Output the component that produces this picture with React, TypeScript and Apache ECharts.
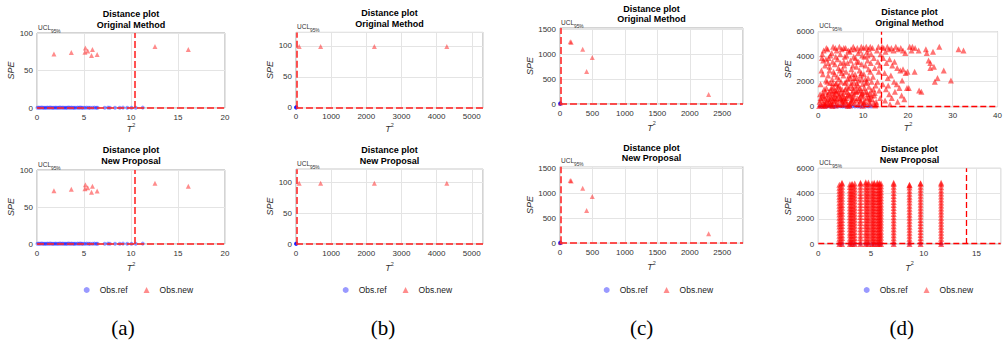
import React, { useEffect, useRef } from "react";
import * as echarts from "echarts";

type Pt = [number, number];

const captions = ["(a)", "(b)", "(c)", "(d)"];
const titleMain = "Distance plot";
const rowSubtitles = ["Original Method", "New Proposal"];
const refName = "Obs.ref";
const newName = "Obs.new";

// ---------- (a) ----------
const aRef: Pt[] = [
  [0.05, 0.3], [0.2, 0.5], [0.35, 0.2], [0.5, 0.6], [0.65, 0.3], [0.8, 0.4], [0.95, 0.2], [1.1, 0.5],
  [1.25, 0.3], [1.4, 0.6], [1.55, 0.2], [1.7, 0.4], [1.85, 0.3], [2.0, 0.5], [2.15, 0.2], [2.3, 0.4],
  [2.45, 0.6], [2.6, 0.3], [2.75, 0.5], [2.9, 0.2], [3.05, 0.4], [3.2, 0.3], [3.35, 0.6], [3.5, 0.2],
  [3.65, 0.5], [3.8, 0.3], [3.95, 0.4], [4.1, 0.2], [4.3, 0.5], [4.45, 0.3], [4.6, 0.6], [4.75, 0.2],
  [4.9, 0.4], [5.1, 0.3], [5.3, 0.5], [5.5, 0.2], [5.65, 0.4], [5.9, 0.3], [6.1, 0.5], [6.3, 0.2],
  [6.45, 0.4], [7.2, 0.3], [7.55, 0.5], [7.75, 0.2], [8.3, 0.4], [8.8, 0.3], [9.15, 0.5], [9.6, 0.2],
  [10.05, 0.4], [10.5, 0.3], [11.25, 0.5],
];
const aNew: Pt[] = [
  [1.8, 72], [3.65, 74], [5.15, 80], [5.1, 74.5], [5.4, 76], [5.9, 78], [5.8, 70], [6.4, 71.5],
  [12.55, 82], [16.1, 78],
];
const aUclT2 = 10.4;
const aUclSpe = 0.4;

// ---------- (b) ----------
const bRef: Pt[] = [[0, 0.2], [3, 0.5], [6, 0.3], [10, 0.6]];
const bNew: Pt[] = [[90, 99], [700, 99], [2230, 99], [4290, 99]];
const bUclT2 = 12;
const bUclSpe = 0.5;

// ---------- (c) ----------
const cRef: Pt[] = [[0, 2], [5, 8], [10, 4], [3, 15]];
const cNew: Pt[] = [[158, 1255], [172, 1245], [350, 1100], [497, 935], [410, 655], [2290, 190], [8, 20]];
const cUclT2 = 12;
const cUclSpe = 8;

// ---------- (d) original ----------
const dRefTop: Pt[] = [
  [0.3, 10], [0.8, 20], [1.3, 5], [1.9, 15], [2.4, 25], [2.9, 10], [3.4, 20], [3.8, 5], [4.3, 15],
  [4.9, 25], [5.4, 10], [5.9, 20], [6.5, 5], [7.1, 15], [7.6, 25], [8.2, 10], [8.8, 20], [9.3, 5],
  [9.9, 15], [10.6, 25], [11.2, 10], [11.8, 20],
];
const dNewTop: Pt[] = [
  [0.3, 400], [0.5, 1800], [0.6, 150], [0.8, 3900], [0.9, 900], [1.0, 2600], [1.1, 300], [1.2, 4500],
  [1.3, 1400], [1.4, 700], [1.5, 3300], [1.6, 100], [1.7, 2100], [1.8, 4700], [1.9, 500], [0.4, 1000],
  [0.7, 2900], [1.1, 3700], [1.6, 1200], [1.9, 250], [0.2, 60], [1.3, 50], [0.9, 4200], [1.7, 3800],
  [2.1, 4600], [2.3, 3900], [2.5, 3200], [2.2, 2500], [2.6, 1900], [2.4, 1200], [2.8, 800], [2.1, 600],
  [2.9, 300], [2.3, 150], [3.0, 4300], [3.2, 3600], [3.4, 2800], [3.1, 2200], [3.3, 1600], [3.5, 1000],
  [3.6, 500], [3.2, 200], [3.8, 4700], [3.9, 4000], [3.7, 3400], [3.6, 2600], [3.9, 1800], [3.8, 1300],
  [3.5, 700], [3.9, 100], [2.7, 4100], [2.5, 2900], [2.9, 1500], [3.3, 4800], [2.6, 600], [3.0, 1100],
  [3.7, 900], [2.2, 3500],
  [4.1, 4500], [4.3, 3800], [4.5, 3100], [4.2, 2400], [4.6, 1700], [4.4, 1000], [4.8, 600], [4.1, 300],
  [4.9, 4200], [5.0, 3500], [5.2, 2700], [5.1, 2000], [5.3, 1400], [5.5, 800], [5.4, 400], [5.6, 150],
  [5.7, 4700], [5.9, 4000], [5.8, 3300], [5.6, 2500], [5.9, 1900], [5.8, 1200], [5.5, 600], [4.7, 4800],
  [4.6, 2200], [4.3, 1300], [5.2, 4600], [5.0, 1100], [4.8, 2900], [5.7, 3600], [4.0, 1900], [4.2, 700],
  [5.3, 200],
  [6.1, 4700], [6.3, 4100], [6.5, 3500], [6.2, 2800], [6.6, 2200], [6.4, 1600], [6.8, 1000], [6.1, 500],
  [6.9, 200], [7.0, 4400], [7.2, 3700], [7.4, 3000], [7.1, 2300], [7.3, 1700], [7.5, 1100], [7.6, 600],
  [7.2, 300], [7.8, 4800], [7.9, 4000], [7.7, 3300], [7.6, 2600], [7.9, 2000], [7.8, 1300], [7.5, 800],
  [6.7, 4500], [6.5, 1200], [6.9, 2500], [7.3, 4600], [7.0, 900], [6.3, 700], [7.7, 1500],
  [8.1, 4600], [8.3, 3900], [8.5, 3200], [8.2, 2600], [8.6, 1900], [8.4, 1200], [8.8, 700], [8.1, 300],
  [8.9, 4300], [9.0, 3600], [9.2, 2900], [9.1, 2100], [9.3, 1500], [9.5, 900], [9.4, 400], [9.6, 4800],
  [9.8, 4100], [9.7, 3400], [9.6, 2700], [9.9, 1800], [9.8, 1100], [9.5, 500], [8.7, 4700], [8.5, 2300],
  [9.3, 4500], [9.0, 1300], [8.3, 1600], [9.7, 2200],
  [10.1, 4700], [10.3, 4000], [10.5, 3300], [10.2, 2600], [10.6, 1900], [10.4, 1200], [10.8, 700],
  [10.1, 300], [10.9, 4400], [11.0, 3700], [11.2, 3000], [11.1, 2300], [11.3, 1600], [11.5, 1000],
  [11.4, 400], [11.6, 4800], [11.8, 4200], [11.7, 3500], [11.6, 2800], [11.9, 2000], [11.8, 1300],
  [11.5, 600], [10.7, 4800], [11.2, 4600], [10.5, 2200],
  [12.1, 4700], [12.4, 3900], [12.6, 3100], [12.2, 2400], [12.8, 1700], [12.5, 900], [12.9, 400],
  [13.1, 4500], [13.3, 3600], [13.5, 2800], [13.2, 2000], [13.6, 1300], [13.8, 700], [13.4, 4800],
  [13.9, 4200], [13.7, 3300], [12.3, 1400], [13.0, 200],
  [14.2, 4800], [14.6, 4700], [15.0, 4400], [15.4, 4800], [15.8, 4600], [16.3, 4700], [16.8, 4500],
  [17.3, 4800], [17.8, 4600], [18.4, 4700], [18.9, 4500], [19.4, 4300], [14.5, 3900], [15.2, 3500],
  [15.9, 3800], [16.5, 3300], [17.0, 3600], [17.6, 3100], [18.3, 2900], [18.9, 3000], [19.5, 2700],
  [19.9, 2800], [14.8, 2700], [15.5, 2300], [16.2, 2500], [16.9, 2000], [17.5, 1800], [18.1, 1500],
  [18.7, 2100], [14.4, 1800], [15.1, 1400], [15.8, 1000], [16.4, 700], [17.1, 1200], [17.7, 400],
  [18.6, 900], [19.2, 600], [19.8, 1500], [14.9, 500], [16.0, 200], [15.6, 1700],
  [20.4, 4800], [21.0, 4800], [21.6, 4700], [20.8, 4500], [22.4, 4500], [24.0, 4600], [24.6, 3700],
  [25.0, 3500], [25.8, 3200], [25.0, 3100], [26.0, 2000], [26.6, 2300], [27.0, 4800], [28.0, 2900],
  [29.6, 2100], [31.3, 4600], [32.4, 4500], [22.5, 1300], [23.0, 1200], [20.2, 1500], [21.5, 2800],
  [25.6, 4400], [24.2, 4300],
  [0.5, 700], [1.0, 1100], [1.5, 200], [2.0, 900], [2.5, 400], [3.0, 700], [3.5, 1300], [4.0, 600],
  [4.5, 200], [5.0, 700], [5.5, 1000], [6.0, 400], [6.5, 900], [7.0, 100], [7.5, 400], [8.0, 1000],
  [8.5, 500], [9.0, 200], [9.5, 1300], [10.0, 800], [10.5, 400], [11.0, 1000], [11.5, 200], [12.0, 600],
  [1.2, 800], [2.8, 1300], [4.4, 1600], [6.0, 1400], [7.4, 1900], [8.8, 1700], [10.3, 1500], [11.9, 900],
  [3.1, 50], [6.6, 60], [9.9, 80], [12.7, 100],
  [0.6, 550], [1.4, 350], [2.2, 1000], [2.7, 200], [3.4, 450], [4.0, 1200], [4.7, 900], [5.2, 500],
  [5.9, 700], [6.4, 250], [6.8, 1500], [7.3, 500], [8.0, 700], [8.6, 1200], [9.2, 650], [9.7, 1000],
  [10.2, 350], [10.8, 1200], [11.3, 750], [12.4, 300], [1.8, 1500], [3.2, 1900], [4.9, 1400], [6.2, 2000],
  [8.0, 2300], [9.4, 2500], [10.9, 2000], [12.6, 1100], [2.0, 2000], [5.4, 3000], [8.6, 3600], [11.0, 4100],
];
const dUclT2Top = 14.05;
const dUclSpeTop = 30;

// ---------- (d) new proposal ----------
const dColT2 = [2.0, 2.25, 3.0, 3.2, 3.45, 4.0, 4.5, 4.75, 5.1, 5.3, 5.6, 5.8, 5.95, 7.15, 8.65, 9.7, 11.65];
const dColSpe: number[][] = [
  [0, 180, 420, 650, 900, 1130, 1380, 1600, 1850, 2080, 2330, 2560, 2800, 3040, 3270, 3520, 3750, 3990, 4230, 4460, 4700],
  [0, 230, 470, 700, 950, 1190, 1420, 1670, 1900, 2150, 2390, 2620, 2870, 3100, 3350, 3580, 3820, 4060, 4300, 4540, 4780, 4860],
  [0, 210, 440, 690, 920, 1160, 1410, 1640, 1880, 2120, 2360, 2600, 2840, 3080, 3320, 3560, 3790, 4030, 4270, 4510, 4740],
  [0, 160, 400, 630, 880, 1110, 1350, 1590, 1830, 2070, 2310, 2540, 2780, 3020, 3260, 3500, 3740, 3970, 4210, 4450, 4690, 4780],
  [0, 240, 480, 720, 960, 1200, 1440, 1680, 1920, 2160, 2400, 2640, 2880, 3120, 3360, 3600, 3840, 4080, 4320, 4560, 4800],
  [0, 190, 450, 680, 930, 1170, 1400, 1660, 1890, 2140, 2370, 2610, 2860, 3090, 3330, 3580, 3810, 4050, 4300, 4530, 4770, 4850],
  [0, 220, 460, 710, 940, 1190, 1420, 1650, 1910, 2140, 2390, 2620, 2870, 3100, 3340, 3590, 3820, 4060, 4310, 4540, 4780, 4890],
  [0, 170, 410, 660, 890, 1140, 1370, 1620, 1860, 2090, 2340, 2570, 2820, 3050, 3300, 3530, 3780, 4010, 4260, 4490, 4730, 4880],
  [0, 250, 490, 730, 970, 1210, 1450, 1690, 1930, 2170, 2410, 2650, 2890, 3130, 3370, 3610, 3850, 4090, 4330, 4570, 4820],
  [0, 200, 430, 670, 910, 1150, 1390, 1630, 1870, 2110, 2350, 2590, 2830, 3070, 3310, 3550, 3790, 4030, 4270, 4510, 4750, 4860],
  [0, 230, 460, 700, 930, 1170, 1410, 1650, 1890, 2130, 2360, 2600, 2840, 3080, 3320, 3550, 3790, 4030, 4270, 4510, 4740, 4850],
  [0, 180, 420, 660, 900, 1140, 1380, 1620, 1860, 2100, 2340, 2580, 2820, 3060, 3300, 3540, 3780, 4020, 4260, 4500, 4740, 4830],
  [0, 260, 500, 740, 980, 1220, 1460, 1700, 1940, 2180, 2420, 2660, 2900, 3140, 3380, 3620, 3860, 4100, 4340, 4580, 4800],
  [0, 210, 450, 690, 930, 1170, 1410, 1650, 1890, 2130, 2370, 2610, 2850, 3090, 3330, 3570, 3810, 4050, 4290, 4530, 4760, 4860],
  [0, 190, 420, 660, 900, 1130, 1370, 1610, 1850, 2090, 2320, 2560, 2800, 3040, 3280, 3520, 3750, 3990, 4230, 4470, 4650, 4700],
  [0, 240, 470, 710, 950, 1190, 1430, 1670, 1910, 2150, 2390, 2630, 2870, 3110, 3340, 3580, 3820, 4060, 4300, 4540, 4780, 4820],
  [0, 170, 410, 650, 890, 1130, 1370, 1610, 1850, 2090, 2330, 2570, 2810, 3050, 3290, 3530, 3770, 4010, 4250, 4490, 4730, 4860],
];
const dRefBottomSpe = [5, 10, 5, 10, 5, 10, 5, 10, 5, 10, 5, 10, 5, 10, 5, 10, 5];
const dUclT2Bottom = 14;
const dUclSpeBottom = 30;

// axis extents / tick steps: [min, max, interval]
const axA = { x: [0, 20, 5], y: [0, 100, 50] };
const axB = { x: [0, 5320, 1000], y: [0, 122, 50] };
const axC = { x: [0, 2820, 500], y: [0, 1530, 500] };
const axD1 = { x: [0, 40, 10], y: [0, 6000, 2000] };
const axD2 = { x: [0, 17.3, 5], y: [0, 6000, 2000] };

// ---------- layout (pixels) ----------
const gridRects = [
  [37, 33, 188, 75], [37, 170, 188, 74],
  [296, 32.4, 187, 75.3], [296, 169.2, 187, 74.8],
  [560, 28, 183, 76], [560, 166.7, 183, 76.6],
  [818.3, 31.7, 182.4, 75], [818.3, 168.3, 182.4, 75.7],
];
const titleYs = [
  [14, 25], [150, 161], [13.3, 24.3], [150, 161],
  [9.3, 19], [147.7, 157.7], [11.7, 23.3], [149, 160],
];
const speGaps = [21, 21, 20, 20, 25, 25, 23.5, 23.5];
const t2Gaps = [13.5, 16.5, 13.5, 16.5, 16, 16.5, 13.5, 16];
const legendLefts = [78.7, 337.7, 598.7, 858.7];
const captionXs = [123, 383, 641.7, 901.7];

const FONT = "'Liberation Sans', Arial, Helvetica, sans-serif";

function buildOption() {
  const dNewBottom: Pt[] = [];
  dColT2.forEach((x, i) => dColSpe[i].forEach((y) => dNewBottom.push([x, y])));
  const dRefBottom: Pt[] = dColT2.map((x, i) => [x, dRefBottomSpe[i]] as Pt);

  const panels = [
    { ref: aRef, neu: aNew, t2: aUclT2, spe: aUclSpe, ax: axA },
    { ref: aRef, neu: aNew, t2: aUclT2, spe: aUclSpe, ax: axA },
    { ref: bRef, neu: bNew, t2: bUclT2, spe: bUclSpe, ax: axB },
    { ref: bRef, neu: bNew, t2: bUclT2, spe: bUclSpe, ax: axB },
    { ref: cRef, neu: cNew, t2: cUclT2, spe: cUclSpe, ax: axC },
    { ref: cRef, neu: cNew, t2: cUclT2, spe: cUclSpe, ax: axC },
    { ref: dRefTop, neu: dNewTop, t2: dUclT2Top, spe: dUclSpeTop, ax: axD1 },
    { ref: dRefBottom, neu: dNewBottom, t2: dUclT2Bottom, spe: dUclSpeBottom, ax: axD2 },
  ];

  const grid: any[] = [];
  const xAxis: any[] = [];
  const yAxis: any[] = [];
  const series: any[] = [];
  const graphic: any[] = [];
  const plain = (v: number) => String(v);

  panels.forEach((p, i) => {
    const [l, t, w, h] = gridRects[i];
    const isD = i >= 6;
    grid.push({
      left: l, top: t, width: w, height: h, show: true,
      borderColor: "#a8a8a8", borderWidth: 1, backgroundColor: "#fff",
    });
    const [xmin, xmax, xint] = p.ax.x;
    const [ymin, ymax, yint] = p.ax.y;
    xAxis.push({
      type: "value", gridIndex: i, min: xmin, max: xmax, interval: xint,
      axisLine: { show: false }, axisTick: { show: false },
      splitLine: { show: true, lineStyle: { color: "#e4e4e4", width: 1 } },
      axisLabel: {
        fontFamily: FONT, fontSize: 8, color: "#333", margin: 5, formatter: plain,
        showMaxLabel: xmax % xint === 0,
      },
      name: "{t|T}{s|2}", nameLocation: "middle", nameGap: t2Gaps[i],
      nameTextStyle: {
        rich: {
          t: { fontFamily: FONT, fontSize: 9, fontStyle: "italic", color: "#333", lineHeight: 12, verticalAlign: "bottom" },
          s: { fontFamily: FONT, fontSize: 5.5, color: "#333", lineHeight: 12, verticalAlign: "top" },
        },
      },
    });
    yAxis.push({
      type: "value", gridIndex: i, min: ymin, max: ymax, interval: yint,
      axisLine: { show: false }, axisTick: { show: false },
      splitLine: { show: true, lineStyle: { color: "#e4e4e4", width: 1 } },
      axisLabel: {
        fontFamily: FONT, fontSize: 8, color: "#333", margin: 4, formatter: plain,
        showMaxLabel: ymax % yint === 0,
      },
      name: "SPE", nameLocation: "middle", nameGap: speGaps[i], nameRotate: 90,
      nameTextStyle: { fontFamily: FONT, fontSize: 9, fontStyle: "italic", color: "#333" },
    });
    series.push({
      type: "scatter", name: refName, xAxisIndex: i, yAxisIndex: i, data: p.ref,
      symbol: "circle", symbolSize: 4, itemStyle: { color: "rgba(0,0,255,0.5)" }, z: 2,
    });
    series.push({
      type: "scatter", name: newName, xAxisIndex: i, yAxisIndex: i, data: p.neu,
      symbol: "triangle", symbolSize: isD ? 6 : 5,
      itemStyle: { color: "rgba(255,0,0,0.45)", opacity: isD ? 1 : 1 },
      z: 3,
      markLine: {
        silent: true, symbol: ["none", "none"], label: { show: false }, animation: false,
        lineStyle: isD
          ? { color: "#ff0000", width: 1.3, type: [6, 3] }
          : { color: "rgba(255,40,40,0.8)", width: 2, type: [7, 3] },
        emphasis: { disabled: true },
        data: [{ xAxis: p.t2 }, { yAxis: p.spe }],
      },
    });

    const cx = l + w / 2;
    const [ty1, ty2] = titleYs[i];
    graphic.push({
      type: "text", x: cx, y: ty1, silent: true,
      style: { text: titleMain, fill: "#000", font: `bold 9px ${FONT}`, align: "center", verticalAlign: "middle", textAlign: "center", textVerticalAlign: "middle" },
    });
    graphic.push({
      type: "text", x: cx, y: ty2, silent: true,
      style: { text: rowSubtitles[i % 2], fill: "#000", font: `bold 9px ${FONT}`, align: "center", verticalAlign: "middle", textAlign: "center", textVerticalAlign: "middle" },
    });
    graphic.push({
      type: "text", x: l + 1, y: t + 0.5, silent: true,
      style: {
        text: "{u|UCL}{p|95%}", fill: "#333", align: "left", verticalAlign: "bottom", textAlign: "left", textVerticalAlign: "bottom",
        rich: {
          u: { fontFamily: FONT, fontSize: 6.5, fill: "#333", lineHeight: 10, verticalAlign: "top" },
          p: { fontFamily: FONT, fontSize: 4.8, fill: "#333", lineHeight: 10, verticalAlign: "bottom" },
        },
      },
    });
  });

  // (d) panels: denser, more saturated markers
  series[13].itemStyle.color = "rgba(255,0,0,0.55)";
  series[15].itemStyle.color = "rgba(255,0,0,0.6)";

  captions.forEach((c, i) => {
    graphic.push({
      type: "text", x: captionXs[i], y: 328, silent: true,
      style: { text: c, fill: "#000", font: "21px 'Liberation Serif', 'Times New Roman', serif", align: "center", verticalAlign: "middle", textAlign: "center", textVerticalAlign: "middle" },
    });
  });

  const legend = legendLefts.map((left) => ({
    left, top: 280.5, orient: "horizontal", itemWidth: 6, itemHeight: 6, itemGap: 16,
    selectedMode: false,
    textStyle: { fontFamily: FONT, fontSize: 8.5, color: "#222", padding: [0, 0, 0, 5] },
    data: [{ name: refName, icon: "circle" }, { name: newName, icon: "triangle" }],
  }));

  return {
    animation: false,
    backgroundColor: "#fff",
    grid, xAxis, yAxis, series, legend, graphic,
  };
}

export default function App() {
  const ref = useRef<HTMLDivElement>(null);
  useEffect(() => {
    const chart = echarts.init(ref.current!, undefined, { renderer: "svg" });
    chart.setOption(buildOption() as any);
    return () => chart.dispose();
  }, []);
  return (
    <div
      ref={ref}
      style={{ position: "absolute", left: 0, top: 0, width: 1005, height: 341, background: "#fff" }}
    />
  );
}
